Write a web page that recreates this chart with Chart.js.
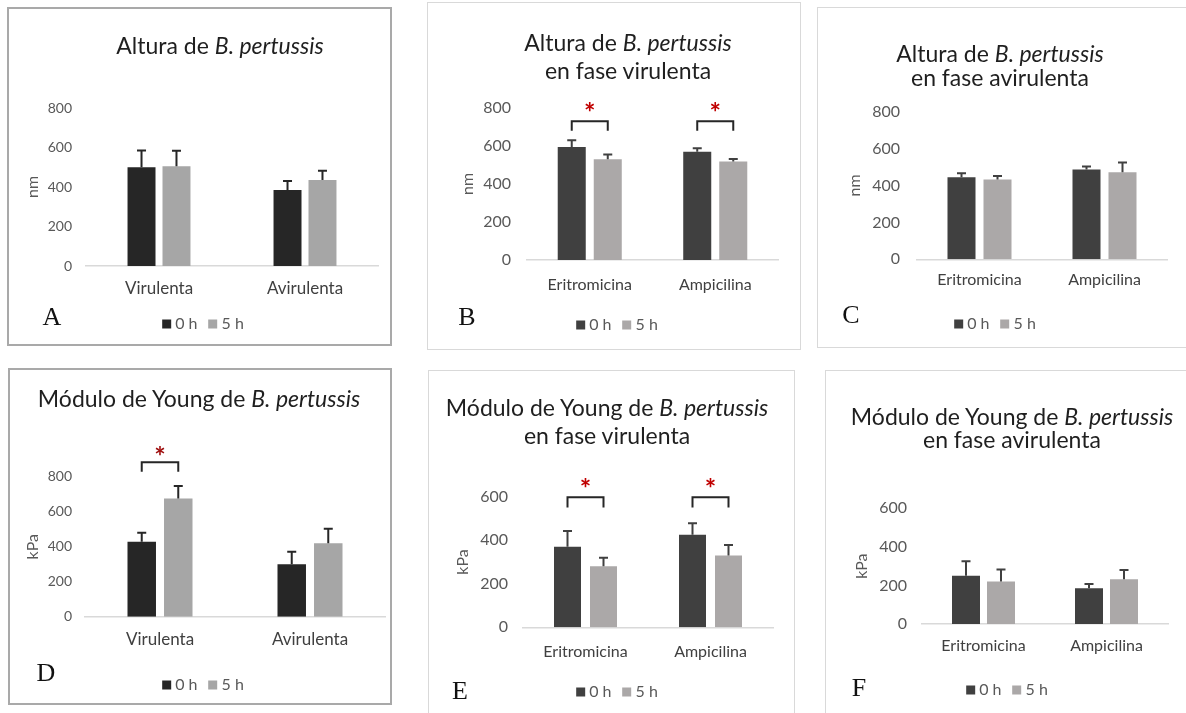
<!DOCTYPE html>
<html>
<head>
<meta charset="utf-8">
<script src="https://cdn.jsdelivr.net/npm/chart.js@4.4.1/dist/chart.umd.min.js"></script>
<style>
  body { margin: 0; width: 1186px; height: 713px; overflow: hidden; position: relative; background: #fff; font-family: Lato, sans-serif; }
  .panel { position: absolute; }
  .panel canvas { position: absolute; left: 0; top: 0; }
  .frame { position: absolute; box-sizing: border-box; pointer-events: none; }
  .title { position: absolute; width: 500px; text-align: center; color: #1f1f1f; white-space: nowrap; }
  .letter { position: absolute; transform: translate(-50%, -50%); font-family: "Liberation Serif", serif; font-size: 26px; color: #111; }
  .legend { position: absolute; transform: translate(-50%, -50%); display: flex; align-items: center; font-size: 16px; color: #595959; white-space: nowrap; }
  .legend span.sw { display: inline-block; width: 9px; height: 9px; margin-right: 4px; }
  .legend span.item { margin-right: 11px; }
  .legend span.item:last-child { margin-right: 0; }
</style>
</head>
<body>
<script>
// categorías y series
const estados = ["Virulenta", "Avirulenta"];
const antibioticos = ["Eritromicina", "Ampicilina"];
const tiempos = ["0 h", "5 h"];

// Altura (nm) por fase
const alturaFase0h = [500, 385];
const alturaFase5h = [505, 435];
const alturaFaseErr0h = [85, 45];
const alturaFaseErr5h = [78, 47];

// Altura (nm), fase virulenta
const alturaVir0h = [595, 570];
const alturaVir5h = [530, 518];
const alturaVirErr0h = [35, 18];
const alturaVirErr5h = [25, 13];
const alturaVirSig = [true, true];

// Altura (nm), fase avirulenta
const alturaAvir0h = [445, 487];
const alturaAvir5h = [432, 472];
const alturaAvirErr0h = [22, 16];
const alturaAvirErr5h = [20, 52];

// Módulo de Young (kPa) por fase
const youngFase0h = [428, 300];
const youngFase5h = [675, 420];
const youngFaseErr0h = [52, 71];
const youngFaseErr5h = [72, 83];
const youngFaseSig = [true, false];

// Módulo de Young (kPa), fase virulenta
const youngVir0h = [370, 425];
const youngVir5h = [280, 330];
const youngVirErr0h = [72, 53];
const youngVirErr5h = [40, 48];
const youngVirSig = [true, true];

// Módulo de Young (kPa), fase avirulenta
const youngAvir0h = [250, 185];
const youngAvir5h = [220, 232];
const youngAvirErr0h = [75, 22];
const youngAvirErr5h = [62, 48];

const tickStep = 200;

// barras de error (solo positivas, estilo Excel)
const errorBars = {
  id: 'errorBars',
  afterDatasetsDraw(chart, args, opts) {
    const ctx = chart.ctx, y = chart.scales.y;
    ctx.save();
    ctx.strokeStyle = opts.color;
    ctx.lineWidth = 2;
    chart.data.datasets.forEach((ds, i) => {
      chart.getDatasetMeta(i).data.forEach((bar, j) => {
        const top = y.getPixelForValue(ds.data[j] + ds.errors[j]);
        ctx.beginPath();
        ctx.moveTo(bar.x, bar.y);
        ctx.lineTo(bar.x, top);
        ctx.moveTo(bar.x - 4.5, top);
        ctx.lineTo(bar.x + 4.5, top);
        ctx.stroke();
      });
    });
    ctx.restore();
  }
};

// corchete con asterisco sobre los pares significativos
const significance = {
  id: 'significance',
  afterDatasetsDraw(chart, args, opts) {
    if (!opts.flags) return;
    const ctx = chart.ctx, y = chart.scales.y;
    const m0 = chart.getDatasetMeta(0), m1 = chart.getDatasetMeta(1);
    opts.flags.forEach((f, j) => {
      if (!f) return;
      const x0 = m0.data[j].x, x1 = m1.data[j].x;
      const yb = y.getPixelForValue(opts.level), yl = y.getPixelForValue(opts.leg);
      ctx.save();
      ctx.strokeStyle = '#262626';
      ctx.lineWidth = 2;
      ctx.beginPath();
      ctx.moveTo(x0, yl); ctx.lineTo(x0, yb); ctx.lineTo(x1, yb); ctx.lineTo(x1, yl);
      ctx.stroke();
      ctx.fillStyle = opts.starColor;
      ctx.font = 'bold 27px Lato';
      ctx.textAlign = 'center';
      ctx.textBaseline = 'alphabetic';
      const m = ctx.measureText('*');
      const ys = y.getPixelForValue(opts.star);
      ctx.fillText('*', (x0 + x1) / 2, ys + (m.actualBoundingBoxAscent - m.actualBoundingBoxDescent) / 2);
      ctx.restore();
    });
  }
};

const oscuro = ['#262626', '#a6a6a6'];
const medio = ['#404040', '#aba8a8'];

const panels = [
  { rect: [7, 7, 385, 339], plot: { l: 86, r: 378, t: 108, b: 266 }, max: 800, tickRight: 72, tickSize: 14,
    yTitle: 'nm', yTitleX: 33, xLabelY: 289, xSize: 17,
    title: ['Altura de <i>B. pertussis</i>'], titleAt: [220, 45], titleSize: 23, lineH: 28,
    letter: 'A', letterAt: [52, 317], legendAt: [203, 322], frame: '2px solid #a9a9a9', colors: oscuro, err: '#262626',
    cp: 0.479, bp: 0.8, labels: estados, v0: alturaFase0h, v1: alturaFase5h, e0: alturaFaseErr0h, e1: alturaFaseErr5h },
  { rect: [427, 2, 374, 348], plot: { l: 527, r: 778, t: 108, b: 260 }, max: 800, tickRight: 511, tickSize: 16,
    yTitle: 'nm', yTitleX: 468, xLabelY: 285, xSize: 16,
    title: ['Altura de <i>B. pertussis</i>', 'en fase virulenta'], titleAt: [628, 42], titleSize: 23, lineH: 28,
    letter: 'B', letterAt: [467, 317], legendAt: [617, 323], frame: '1px solid #d9d9d9', colors: medio, err: '#404040',
    cp: 0.574, bp: 0.778, labels: antibioticos, v0: alturaVir0h, v1: alturaVir5h, e0: alturaVirErr0h, e1: alturaVirErr5h,
    sig: { flags: alturaVirSig, level: 730, leg: 680, star: 805, starColor: '#c00000' } },
  { rect: [817, 7, 372, 341], plot: { l: 917, r: 1167, t: 111.7, b: 259.3 }, max: 800, tickRight: 900, tickSize: 16,
    yTitle: 'nm', yTitleX: 855, xLabelY: 280, xSize: 16,
    title: ['Altura de <i>B. pertussis</i>', 'en fase avirulenta'], titleAt: [1000, 53], titleSize: 23, lineH: 24,
    letter: 'C', letterAt: [851, 315], legendAt: [995, 322], frame: '1px solid #d9d9d9', colors: medio, err: '#404040',
    cp: 0.576, bp: 0.778, labels: antibioticos, v0: alturaAvir0h, v1: alturaAvir5h, e0: alturaAvirErr0h, e1: alturaAvirErr5h },
  { rect: [8, 368, 384, 337], plot: { l: 85, r: 385, t: 476.7, b: 616.7 }, max: 800, tickRight: 72, tickSize: 14,
    yTitle: 'kPa', yTitleX: 33, xLabelY: 640, xSize: 17,
    title: ['Módulo de Young de <i>B. pertussis</i>'], titleAt: [199, 398], titleSize: 23, lineH: 28,
    letter: 'D', letterAt: [46, 673], legendAt: [203, 683], frame: '2px solid #a9a9a9', colors: oscuro, err: '#262626',
    cp: 0.487, bp: 0.78, labels: estados, v0: youngFase0h, v1: youngFase5h, e0: youngFaseErr0h, e1: youngFaseErr5h,
    sig: { flags: youngFaseSig, level: 882, leg: 829, star: 949, starColor: '#a01010' } },
  { rect: [428, 370, 367, 350], plot: { l: 523, r: 773, t: 496.7, b: 627.3 }, max: 600, tickRight: 508, tickSize: 16,
    yTitle: 'kPa', yTitleX: 463, xLabelY: 652, xSize: 16,
    title: ['Módulo de Young de <i>B. pertussis</i>', 'en fase virulenta'], titleAt: [607, 407], titleSize: 23, lineH: 28,
    letter: 'E', letterAt: [460, 691], legendAt: [617, 690], frame: '1px solid #d9d9d9', colors: medio, err: '#404040',
    cp: 0.576, bp: 0.75, labels: antibioticos, v0: youngVir0h, v1: youngVir5h, e0: youngVirErr0h, e1: youngVirErr5h,
    sig: { flags: youngVirSig, level: 598, leg: 550, star: 662, starColor: '#c00000' } },
  { rect: [825, 370, 370, 350], plot: { l: 922, r: 1168, t: 508.3, b: 624 }, max: 600, tickRight: 907, tickSize: 16,
    yTitle: 'kPa', yTitleX: 862, xLabelY: 646, xSize: 16,
    title: ['Módulo de Young de <i>B. pertussis</i>', 'en fase avirulenta'], titleAt: [1012, 416], titleSize: 23, lineH: 23,
    letter: 'F', letterAt: [859, 688], legendAt: [1007, 688], frame: '1px solid #d9d9d9', colors: medio, err: '#404040',
    cp: 0.569, bp: 0.8, labels: antibioticos, v0: youngAvir0h, v1: youngAvir5h, e0: youngAvirErr0h, e1: youngAvirErr5h }
];

function place(el, css) {
  el.style.cssText += css;
  document.body.appendChild(el);
  return el;
}

function buildPanel(p) {
  const [px, py, pw, ph] = p.rect;
  const frame = document.createElement('div');
  frame.className = 'frame';
  place(frame, `left:${px}px;top:${py}px;width:${pw}px;height:${ph}px;border:${p.frame};`);

  const wrap = document.createElement('div');
  wrap.className = 'panel';
  place(wrap, `left:${px}px;top:${py}px;width:${pw}px;height:${ph}px;`);
  const canvas = document.createElement('canvas');
  canvas.width = pw;
  canvas.height = ph;
  wrap.appendChild(canvas);

  const title = document.createElement('div');
  title.className = 'title';
  title.innerHTML = p.title.join('<br>');
  place(title, `left:${p.titleAt[0] - 250}px;top:${p.titleAt[1] - p.lineH / 2}px;font-size:${p.titleSize}px;line-height:${p.lineH}px;`);

  const letter = document.createElement('div');
  letter.className = 'letter';
  letter.textContent = p.letter;
  place(letter, `left:${p.letterAt[0]}px;top:${p.letterAt[1]}px;`);

  const bottomEdge = p.xLabelY + 12;
  const chart = new Chart(canvas, {
    type: 'bar',
    data: {
      labels: p.labels,
      datasets: [
        { label: tiempos[0], data: p.v0, errors: p.e0, backgroundColor: p.colors[0], barPercentage: p.bp, categoryPercentage: p.cp },
        { label: tiempos[1], data: p.v1, errors: p.e1, backgroundColor: p.colors[1], barPercentage: p.bp, categoryPercentage: p.cp }
      ]
    },
    options: {
      responsive: false,
      animation: false,
      layout: { padding: { left: 0, top: p.plot.t - py, right: px + pw - p.plot.r, bottom: py + ph - bottomEdge } },
      plugins: {
        legend: { display: false },
        tooltip: { enabled: false },
        errorBars: { color: p.err },
        significance: p.sig || {}
      },
      scales: {
        x: {
          grid: { display: false, drawTicks: false },
          border: { display: true, color: '#d9d9d9', width: 1.5 },
          ticks: { color: '#404040', font: { family: 'Lato', size: p.xSize }, padding: p.xLabelY - p.plot.b - p.xSize * 0.6 },
          afterFit: s => { s.height = bottomEdge - p.plot.b; }
        },
        y: {
          min: 0, max: p.max,
          ticks: { stepSize: tickStep, color: '#595959', font: { family: 'Lato', size: p.tickSize }, padding: p.plot.l - p.tickRight },
          grid: { display: false, drawTicks: false },
          border: { display: false },
          title: { display: true, text: p.yTitle, color: '#595959', font: { family: 'Lato', size: 16 },
                   padding: { top: p.yTitleX - px - 9.6, bottom: 0 } },
          afterFit: s => { s.width = p.plot.l - px; }
        }
      }
    },
    plugins: [errorBars, significance]
  });

  // leyenda a partir de las series del gráfico
  const legend = document.createElement('div');
  legend.className = 'legend';
  legend.innerHTML = chart.data.datasets.map(ds =>
    `<span class="item"><span class="sw" style="background:${ds.backgroundColor}"></span>${ds.label}</span>`).join('');
  place(legend, `left:${p.legendAt[0]}px;top:${p.legendAt[1]}px;`);
}

panels.forEach(buildPanel);
</script>
</body>
</html>
